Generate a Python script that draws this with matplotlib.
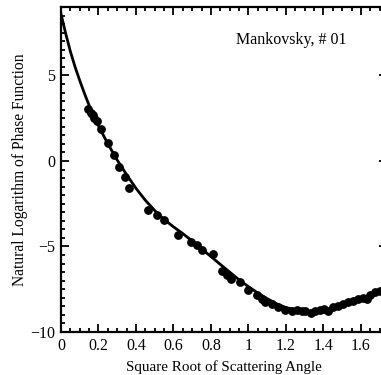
import matplotlib
matplotlib.use("Agg")
import matplotlib.pyplot as plt
from matplotlib.ticker import MultipleLocator

plt.rcParams['font.family'] = ['Liberation Serif', 'DejaVu Serif']

# measured points (sqrt of angle, ln of phase function)
x_pts = [0.146, 0.158, 0.169, 0.178, 0.191, 0.212, 0.252, 0.284, 0.311, 0.341,
         0.364, 0.466, 0.511, 0.550, 0.625, 0.693, 0.723, 0.754, 0.809, 0.857,
         0.884, 0.907, 0.955, 0.999, 1.044, 1.070, 1.088, 1.124, 1.159, 1.195,
         1.230, 1.257, 1.284, 1.301, 1.332, 1.355, 1.381, 1.403, 1.426, 1.452,
         1.479, 1.505, 1.532, 1.559, 1.585, 1.612, 1.630, 1.648, 1.675, 1.701]
y_pts = [3.02, 2.82, 2.68, 2.53, 2.33, 1.88, 1.03, 0.33, -0.35, -0.92,
         -1.59, -2.88, -3.15, -3.43, -4.33, -4.71, -4.90, -5.21, -5.44, -6.46,
         -6.65, -6.90, -7.10, -7.53, -7.82, -8.07, -8.27, -8.36, -8.56, -8.69,
         -8.75, -8.71, -8.75, -8.79, -8.89, -8.79, -8.71, -8.65, -8.79, -8.56,
         -8.46, -8.36, -8.27, -8.17, -8.07, -8.01, -8.07, -7.82, -7.68, -7.62]

# fitted curve
x_fit = [0, 0.025, 0.05, 0.075, 0.1, 0.125, 0.15, 0.2, 0.25, 0.3, 0.35, 0.4,
         0.45, 0.5, 0.55, 0.6, 0.65, 0.7, 0.75, 0.8, 0.85, 0.9, 0.95, 1.0,
         1.05, 1.1, 1.15, 1.2, 1.25, 1.3, 1.35, 1.4, 1.45, 1.5, 1.55, 1.6,
         1.65, 1.7, 1.75]
y_fit = [8.6, 7.45, 6.4, 5.5, 4.7, 3.95, 3.25, 2.05, 1.0, 0.05, -0.8, -1.6,
         -2.3, -2.9, -3.42, -3.85, -4.25, -4.68, -5.14, -5.59, -6.05, -6.5,
         -6.95, -7.35, -7.72, -8.05, -8.35, -8.57, -8.7, -8.77, -8.78, -8.73,
         -8.62, -8.47, -8.28, -8.08, -7.88, -7.67, -7.47]

fig = plt.figure(figsize=(3.81, 3.75), dpi=100)
# right spine sits just past the image edge (cropped original)
ax = fig.add_axes([61 / 381, 43 / 375, 326 / 381, 325 / 375])

ax.plot(x_fit, y_fit, color='black', lw=2.0)
ax.scatter(x_pts, y_pts, s=28, color='black', zorder=3)

ax.set_xlim(0, 1.739)
ax.set_ylim(-10, 9)
ax.xaxis.set_minor_locator(MultipleLocator(0.05))
ax.yaxis.set_major_locator(MultipleLocator(5))
ax.yaxis.set_minor_locator(MultipleLocator(0.5))
ax.set_xticks([0, 0.2, 0.4, 0.6, 0.8, 1.0, 1.2, 1.4, 1.6])
ax.set_xticklabels(['0', '0.2', '0.4', '0.6', '0.8', '1', '1.2', '1.4', '1.6'])

ax.tick_params(which='both', direction='in', top=True, right=True,
               labelsize=11.5, width=1.3, pad=4)
ax.tick_params(which='major', length=6)
ax.tick_params(which='minor', length=3)
for sp in ax.spines.values():
    sp.set_linewidth(1.6)

ax.set_xlabel('Square Root of Scattering Angle', fontsize=10.8, labelpad=5)
ax.set_ylabel('Natural Logarithm of Phase Function', fontsize=11.2, labelpad=2)
ax.text(1.227, 7.1, 'Mankovsky, # 01', fontsize=11.5, ha='center', va='center')

fig.savefig('out.png', dpi=100)
